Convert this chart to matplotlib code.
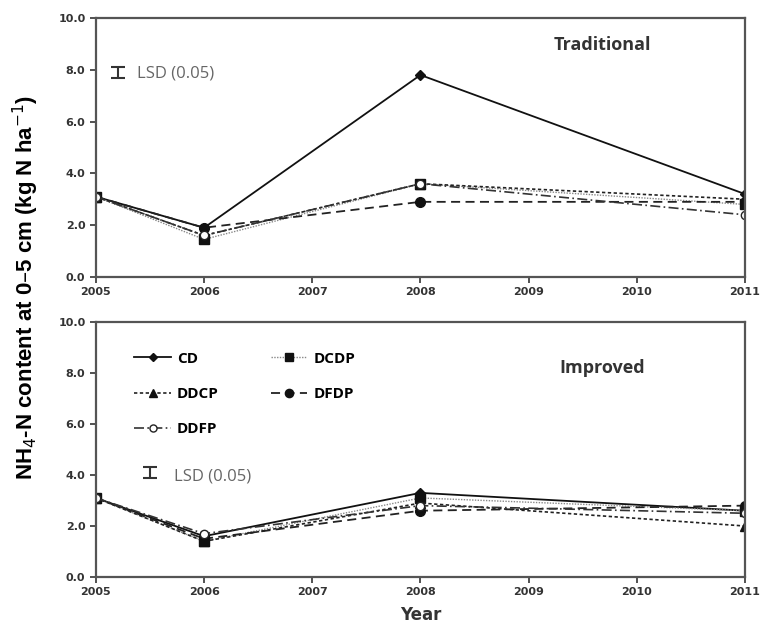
import matplotlib.pyplot as plt

years = [2005, 2006, 2008, 2011]
treatments = ['CD', 'DCDP', 'DDCP', 'DFDP', 'DDFP']

# Traditional system
trad_cd = [3.1, 1.9, 7.8, 3.2]
trad_dcdp = [3.1, 1.45, 3.6, 2.8]
trad_ddcp = [3.1, 1.6, 3.6, 3.0]
trad_dfdp = [3.1, 1.9, 2.9, 2.9]
trad_ddfp = [3.1, 1.6, 3.6, 2.4]

# Improved system
imp_cd = [3.1, 1.6, 3.3, 2.6]
imp_dcdp = [3.1, 1.4, 3.1, 2.6]
imp_ddcp = [3.1, 1.4, 2.9, 2.0]
imp_dfdp = [3.1, 1.5, 2.6, 2.8]
imp_ddfp = [3.1, 1.7, 2.8, 2.5]

lsd_trad = 0.2
lsd_imp = 0.2

styles = {
    'CD':   dict(color='#111111', ls='-', lw=1.3, marker='D', ms=5, mfc='#111111'),
    'DCDP': dict(color='#888888', ls=(0, (1, 1)), lw=1.0, marker='s', ms=7, mfc='#111111', mec='#111111'),
    'DDCP': dict(color='#222222', ls=(0, (2, 1.5)), lw=1.2, marker='^', ms=7, mfc='#111111', mec='#111111'),
    'DFDP': dict(color='#222222', ls=(0, (5, 3)), lw=1.3, marker='o', ms=7, mfc='#111111', mec='#111111'),
    'DDFP': dict(color='#333333', ls=(0, (6, 2, 1, 2)), lw=1.2, marker='o', ms=6, mfc='white', mec='#222222'),
}

fig = plt.figure(figsize=(7.61, 6.44), dpi=100)
ax1 = fig.add_axes([0.126, 0.570, 0.853, 0.402])
ax2 = fig.add_axes([0.126, 0.104, 0.853, 0.396])

panels = [
    (ax1, [trad_cd, trad_dcdp, trad_ddcp, trad_dfdp, trad_ddfp], 'Traditional', 0.895),
    (ax2, [imp_cd, imp_dcdp, imp_ddcp, imp_dfdp, imp_ddfp], 'Improved', 0.82),
]

for ax, series, title, ty in panels:
    handles = {}
    for name, vals in zip(treatments, series):
        h, = ax.plot(years, vals, label=name, **styles[name])
        handles[name] = h
    ax.set_xlim(2005, 2011)
    ax.set_ylim(0, 10)
    ax.set_xticks(range(2005, 2012))
    ax.set_yticks([0, 2, 4, 6, 8, 10])
    ax.set_yticklabels(['%.1f' % v for v in [0, 2, 4, 6, 8, 10]])
    for s in ax.spines.values():
        s.set_color('#555555')
        s.set_linewidth(1.6)
    ax.tick_params(axis='both', labelsize=8, colors='#333333', length=4, width=1.2, direction='out')
    for lab in ax.get_xticklabels() + ax.get_yticklabels():
        lab.set_fontweight('bold')
    ax.text(0.78, ty, title, transform=ax.transAxes, fontsize=13, fontweight='bold',
            color='#333333', ha='center', va='center', family='Open Sans')
    ax.handles = handles

# LSD markers
ax1.errorbar([2005.2], [7.9], yerr=lsd_trad, color='#333333', capsize=5, lw=1.5, capthick=1.5)
ax1.text(2005.38, 7.85, 'LSD (0.05)', fontsize=12, color='#666666', va='center', family='Open Sans')
ax2.errorbar([2005.5], [4.1], yerr=lsd_imp, color='#333333', capsize=5, lw=1.5, capthick=1.5)
ax2.text(2005.72, 3.95, 'LSD (0.05)', fontsize=12, color='#666666', va='center', family='Open Sans')

h = ax2.handles
ax2.legend([h['CD'], h['DDCP'], h['DDFP'], h['DCDP'], h['DFDP']],
           ['CD', 'DDCP', 'DDFP', 'DCDP', 'DFDP'],
           ncol=2, frameon=False, loc='upper left', bbox_to_anchor=(0.045, 0.92),
           handlelength=2.4, handletextpad=0.4, columnspacing=3.4, labelspacing=1.4,
           markerscale=0.85, borderaxespad=0.2,
           prop={'family': 'Open Sans', 'weight': 'bold', 'size': 11})

ax2.set_xlabel('Year', fontsize=12, fontweight='bold', color='#333333', labelpad=6)
fig.text(0.034, 0.553, r'NH$_4$-N content at 0–5 cm (kg N ha$^{-1}$)', rotation=90,
         fontsize=16, fontweight='bold', family='Liberation Sans', ha='center', va='center')

fig.savefig('out.png', dpi=100)
